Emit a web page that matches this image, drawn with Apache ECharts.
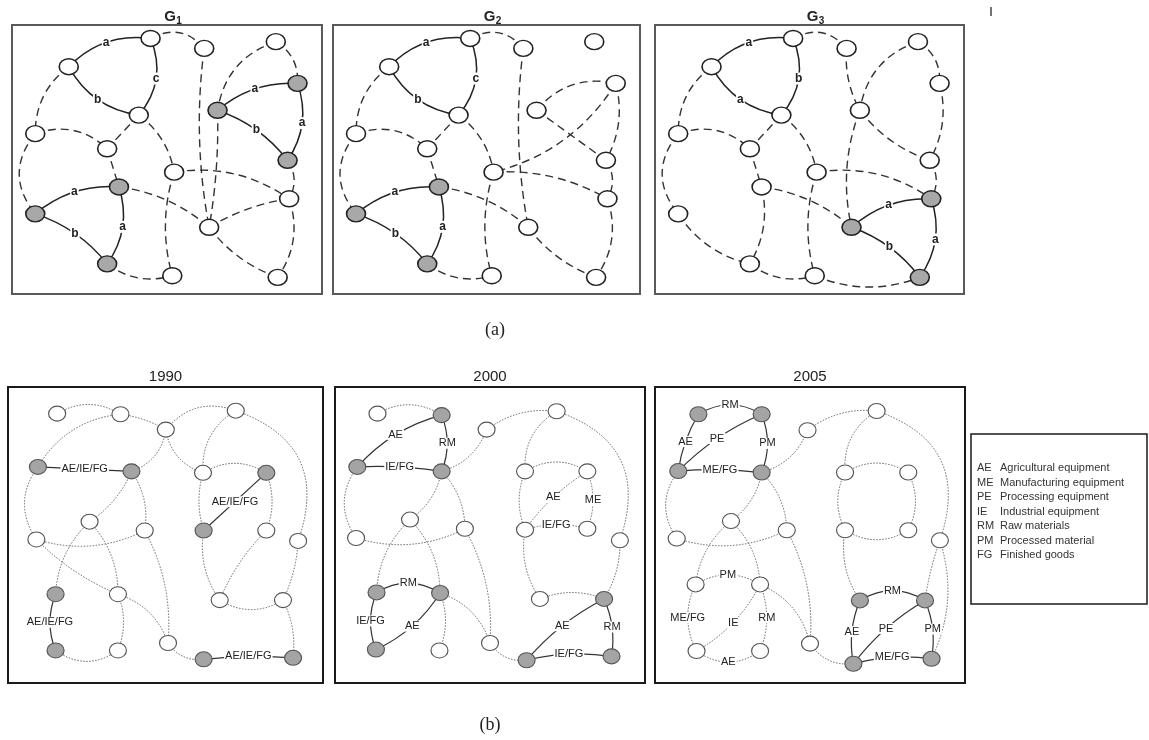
<!DOCTYPE html>
<html>
<head>
<meta charset="utf-8">
<script src="https://cdn.jsdelivr.net/npm/echarts@6/dist/echarts.min.js"></script>
<style>html,body{margin:0;padding:0;background:#fff}#chart{width:1149px;height:740px}</style>
</head>
<body>
<div id="chart"></div>
<script>
// ---------------- DATA ----------------
// Node positions as percent of each panel box [x%, y%] (y measured downward)
const topNodes = [[44.7,5.0],[62.0,8.7],[85.1,6.2],[18.3,15.5],[92.1,21.7],[66.3,31.7],[40.9,33.5],[7.5,40.4],[30.7,46.0],[88.9,50.3],[52.3,54.7],[34.5,60.2],[7.5,70.2],[89.4,64.6],[63.6,75.2],[30.7,88.8],[51.7,93.2],[85.7,93.8]];
const greyG1 = [5,6,10,12,13,16];
const greyG2 = [12,13,16];
const greyG3 = [14,15,18];
// edges: [from, to, curveness, label]  (1-based node numbers)
const g1Solid = [[4,1,0.25,'a'],[1,7,0.3,'c'],[4,7,-0.25,'b'],[6,5,0.2,'a'],[6,10,0.15,'b'],[5,10,0.25,'a'],[13,12,0.2,'a'],[13,16,0.15,'b'],[12,16,0.25,'a']];
const g1Dashed = [[1,2,0.4],[2,15,-0.08],[3,6,-0.3],[3,5,0.3],[6,15,0.05],[10,14,0.3],[14,18,0.25],[11,14,0.2],[15,14,0.1],[15,18,-0.15],[4,8,-0.25],[8,13,-0.4],[8,9,0.3],[7,9,0],[7,11,0.2],[9,12,0],[12,15,0.15],[11,17,-0.15],[16,17,-0.25]];
const g2Solid = [[4,1,0.25,'a'],[1,7,0.3,'c'],[4,7,-0.25,'b'],[13,12,0.2,'a'],[13,16,0.15,'b'],[12,16,0.25,'a']];
const g2Dashed = [[1,2,0.4],[2,15,-0.08],[6,5,0.3],[6,10,0],[5,11,0.2],[5,10,0.2],[10,14,0.3],[11,14,0.15],[14,18,0.25],[15,18,-0.15],[4,8,-0.25],[8,13,-0.4],[8,9,0.3],[7,9,0],[7,11,0.2],[9,12,0],[12,15,0.15],[11,17,-0.15],[16,17,-0.25]];
const g3Solid = [[4,1,0.25,'a'],[1,7,0.3,'b'],[4,7,-0.25,'a'],[15,14,0.2,'a'],[15,18,0.15,'b'],[14,18,0.25,'a']];
const g3Dashed = [[1,2,0.4],[2,6,-0.15],[6,15,-0.15],[3,6,-0.3],[3,5,0.3],[5,10,0.2],[6,10,-0.15],[4,8,-0.25],[8,13,-0.4],[8,9,0.3],[7,9,0],[7,11,0.2],[9,12,0],[12,15,0.15],[12,16,0.2],[13,16,-0.2],[11,17,-0.15],[16,17,-0.25],[17,18,-0.2],[11,14,0.2],[10,14,0.3]];

const nodes1990 = [[15.6,9.0],[35.7,9.2],[50.1,14.4],[72.3,8.0],[9.5,27.0],[39.2,28.5],[61.9,29.0],[82.0,29.0],[25.9,45.5],[62.1,48.5],[43.4,48.5],[9.0,51.5],[82.0,48.5],[92.1,52.0],[15.1,70.0],[34.9,70.0],[67.2,72.0],[87.3,72.0],[15.1,89.0],[34.9,89.0],[50.8,86.5],[62.1,92.0],[90.5,91.5]];
const nodes2000 = [[13.7,9.0],[34.4,9.5],[48.9,14.4],[71.5,8.2],[7.2,27.0],[34.4,28.5],[61.3,28.5],[81.4,28.5],[24.2,44.8],[61.3,48.2],[41.9,47.9],[6.8,51.0],[81.4,47.9],[91.9,51.8],[13.4,69.4],[33.9,69.6],[66.1,71.6],[86.8,71.6],[13.2,88.7],[33.7,89.0],[50.0,86.5],[61.8,92.3],[89.2,91.0]];
const nodes2005 = [[14.0,9.2],[34.4,9.2],[49.2,14.6],[71.5,8.1],[7.5,28.4],[34.4,28.9],[61.3,28.9],[81.7,28.9],[24.5,45.3],[61.3,48.4],[42.5,48.4],[7.0,51.2],[81.7,48.4],[91.9,51.8],[13.1,66.7],[33.9,66.7],[66.1,72.1],[87.1,72.1],[13.4,89.2],[33.9,89.2],[50.0,86.7],[64.0,93.5],[89.2,91.8]];
const grey1990 = [5,6,8,10,15,19,22,23];
const grey2000 = [2,5,6,15,16,18,19,22,23];
const grey2005 = [1,2,5,6,17,18,22,23];
const solid1990 = [[5,6,0,'AE/IE/FG'],[8,10,0,'AE/IE/FG'],[15,19,-0.2,'AE/IE/FG'],[22,23,0.05,'AE/IE/FG']];
const dottedLabel1990 = [];
const dotted1990 = [[1,2,0.3],[2,3,0.1],[3,4,0.35],[2,5,-0.25],[5,12,-0.35],[12,11,-0.2],[6,11,0.2],[3,6,0.3],[3,7,-0.3],[4,7,-0.3],[4,14,0.5],[7,8,0.3],[8,13,0.2],[7,10,-0.15],[10,17,-0.2],[13,17,-0.1],[14,18,0.1],[17,18,-0.3],[18,23,0.15],[21,22,-0.3],[11,21,0.15],[16,21,0.25],[6,9,0.15],[9,15,-0.2],[9,16,0.2],[16,20,0.2],[19,20,-0.35],[12,16,-0.1]];
const solid2000 = [[5,2,0.15,'AE'],[2,6,0.2,'RM'],[5,6,0.05,'IE/FG'],[15,16,0.3,'RM'],[15,19,-0.2,'IE/FG'],[16,19,0.15,'AE'],[18,22,-0.1,'AE'],[18,23,0.15,'RM'],[22,23,0.1,'IE/FG']];
const dottedLabel2000 = [[10,8,0.1,'AE'],[8,13,0.2,'ME'],[10,13,0.15,'IE/FG']];
const dotted2000 = [[1,2,0.3],[6,3,-0.25],[3,4,0.2],[4,7,-0.3],[4,14,0.5],[7,8,0.3],[7,10,-0.2],[10,17,-0.2],[17,18,0.2],[14,18,0.15],[5,12,-0.35],[12,11,-0.2],[6,11,0.2],[6,9,0.2],[9,15,-0.2],[9,16,0.2],[16,20,0.2],[11,21,0.15],[16,21,0.25],[21,22,-0.3]];
const solid2005 = [[1,2,0.3,'RM'],[1,5,-0.1,'AE'],[5,2,0.1,'PE'],[2,6,0.2,'PM'],[5,6,0.05,'ME/FG'],[17,18,0.3,'RM'],[17,22,-0.15,'AE'],[22,18,0.1,'PE'],[18,23,0.15,'PM'],[22,23,0.1,'ME/FG']];
const dottedLabel2005 = [[15,16,0.3,'PM'],[15,19,-0.25,'ME/FG'],[19,16,-0.15,'IE'],[16,20,0.2,'RM'],[19,20,-0.35,'AE']];
const dotted2005 = [[3,4,0.2],[6,3,-0.25],[4,7,-0.3],[4,14,0.5],[7,8,0.3],[7,10,-0.25],[8,13,0.25],[10,13,-0.3],[10,17,-0.2],[14,18,-0.05],[14,23,0.2],[5,12,-0.35],[12,11,-0.2],[6,11,0.2],[6,9,0.2],[9,15,-0.2],[9,16,0.2],[11,21,0.15],[16,21,0.25],[21,22,-0.3]];

const topSubs = ['1','2','3'];
const yearTitles = ['1990','2000','2005'];
const legendAbbr = ['AE','ME','PE','IE','RM','PM','FG'];
const legendDesc = ['Agricultural equipment','Manufacturing equipment','Processing equipment','Industrial equipment','Raw materials','Processed material','Finished goods'];

// ---------------- BUILD ----------------
const SANS = '"Liberation Sans", Arial, sans-serif';
const topGrids = [{left:12,top:25,width:310,height:269},{left:333,top:25,width:307,height:269},{left:655,top:25,width:309,height:269}];
const botGrids = [{left:8,top:387,width:315,height:296},{left:335,top:387,width:310,height:296},{left:655,top:387,width:310,height:296}];

const topStyle = {size:[19,16], white:'#ffffff', grey:'#a8a8a8', border:'#222', borderW:1.5,
  solid:{color:'#222', width:1.5, type:'solid'}, other:{color:'#333', width:1.4, type:[8,5]},
  font:'bold 12px ' + SANS};
const botStyle = {size:[17,15], white:'#ffffff', grey:'#a4a4a4', border:'#555', borderW:1.1,
  solid:{color:'#333', width:1.2, type:'solid'}, other:{color:'#666', width:1, type:[1.5,1.5]},
  font:'11px ' + SANS};

function graphSeries(i, nodes, grey, solid, other, st) {
  const data = nodes.map((p, k) => ({
    value: [p[0], p[1]],
    itemStyle: {color: grey.indexOf(k + 1) >= 0 ? st.grey : st.white, borderColor: st.border, borderWidth: st.borderW, opacity: 1}
  }));
  const links = [];
  other.forEach(e => links.push({source: e[0] - 1, target: e[1] - 1,
    lineStyle: {curveness: e[2], type: st.other.type, color: st.other.color, width: st.other.width, opacity: 1}}));
  solid.forEach(e => links.push({source: e[0] - 1, target: e[1] - 1,
    lineStyle: {curveness: e[2], type: st.solid.type, color: st.solid.color, width: st.solid.width, opacity: 1}}));
  return {
    type: 'graph', coordinateSystem: 'cartesian2d', xAxisIndex: i, yAxisIndex: i, layout: 'none',
    symbol: 'circle', symbolSize: st.size, data: data, links: links, silent: true, z: 2,
    label: {show: false}, edgeLabel: {show: false}, emphasis: {disabled: true}, animation: false
  };
}

function labelSeries(i, nodes, edges, st) {
  const data = edges.map(e => [nodes[e[0]-1][0], nodes[e[0]-1][1], nodes[e[1]-1][0], nodes[e[1]-1][1], e[2]]);
  const texts = edges.map(e => e[3]);
  return {
    type: 'custom', coordinateSystem: 'cartesian2d', xAxisIndex: i, yAxisIndex: i,
    silent: true, clip: false, z: 5, animation: false, encode: {x: [0, 2], y: [1, 3]}, data: data,
    renderItem: function (params, api) {
      const p1 = api.coord([api.value(0), api.value(1)]);
      const p2 = api.coord([api.value(2), api.value(3)]);
      const c = api.value(4);
      const cp = [(p1[0] + p2[0]) / 2 - (p1[1] - p2[1]) * c, (p1[1] + p2[1]) / 2 - (p2[0] - p1[0]) * c];
      const x = 0.25 * p1[0] + 0.5 * cp[0] + 0.25 * p2[0];
      const y = 0.25 * p1[1] + 0.5 * cp[1] + 0.25 * p2[1];
      return {type: 'text', x: x, y: y, style: {text: texts[params.dataIndex], font: st.font, fill: '#222',
        align: 'center', verticalAlign: 'middle', backgroundColor: '#fff', padding: [0, 1]}};
    }
  };
}

const grids = [];
topGrids.forEach(g => grids.push(Object.assign({show: true, borderColor: '#5a5a5a', borderWidth: 2, backgroundColor: 'transparent', containLabel: false}, g)));
botGrids.forEach(g => grids.push(Object.assign({show: true, borderColor: '#1a1a1a', borderWidth: 2, backgroundColor: 'transparent', containLabel: false}, g)));
const xAxes = grids.map((g, i) => ({type: 'value', gridIndex: i, min: 0, max: 100, show: false}));
const yAxes = grids.map((g, i) => ({type: 'value', gridIndex: i, min: 0, max: 100, inverse: true, show: false}));

const series = [
  graphSeries(0, topNodes, greyG1, g1Solid, g1Dashed, topStyle),
  graphSeries(1, topNodes, greyG2, g2Solid, g2Dashed, topStyle),
  graphSeries(2, topNodes, greyG3, g3Solid, g3Dashed, topStyle),
  graphSeries(3, nodes1990, grey1990, solid1990, dotted1990.concat(dottedLabel1990), botStyle),
  graphSeries(4, nodes2000, grey2000, solid2000, dotted2000.concat(dottedLabel2000), botStyle),
  graphSeries(5, nodes2005, grey2005, solid2005, dotted2005.concat(dottedLabel2005), botStyle),
  labelSeries(0, topNodes, g1Solid, topStyle),
  labelSeries(1, topNodes, g2Solid, topStyle),
  labelSeries(2, topNodes, g3Solid, topStyle),
  labelSeries(3, nodes1990, solid1990.concat(dottedLabel1990), botStyle),
  labelSeries(4, nodes2000, solid2000.concat(dottedLabel2000), botStyle),
  labelSeries(5, nodes2005, solid2005.concat(dottedLabel2005), botStyle)
];

const graphic = [];
topGrids.forEach((g, i) => {
  const cx = g.left + g.width / 2 + 3;
  graphic.push({type: 'text', x: cx, y: 17, style: {text: 'G', font: 'bold 15px ' + SANS, fill: '#222', align: 'center', verticalAlign: 'middle'}});
  graphic.push({type: 'text', x: cx + 9, y: 21, style: {text: topSubs[i], font: 'bold 10px ' + SANS, fill: '#222', align: 'center', verticalAlign: 'middle'}});
});
botGrids.forEach((g, i) => {
  graphic.push({type: 'text', x: g.left + g.width / 2, y: 377, style: {text: yearTitles[i], font: '15px ' + SANS, fill: '#222', align: 'center', verticalAlign: 'middle'}});
});
graphic.push({type: 'text', x: 495, y: 330, style: {text: '(a)', font: '18px "Liberation Serif", "Times New Roman", serif', fill: '#222', align: 'center', verticalAlign: 'middle'}});
graphic.push({type: 'text', x: 490, y: 725, style: {text: '(b)', font: '18px "Liberation Serif", "Times New Roman", serif', fill: '#222', align: 'center', verticalAlign: 'middle'}});
graphic.push({type: 'line', shape: {x1: 991, y1: 7, x2: 991, y2: 16}, style: {stroke: '#444', lineWidth: 1.5}});
graphic.push({type: 'rect', shape: {x: 971, y: 434, width: 176, height: 170}, style: {fill: '#fff', stroke: '#1a1a1a', lineWidth: 1.5}});
legendAbbr.forEach((a, i) => {
  const y = 468 + i * 14.5;
  graphic.push({type: 'text', x: 977, y: y, style: {text: a, font: '11px ' + SANS, fill: '#333', verticalAlign: 'middle'}});
  graphic.push({type: 'text', x: 1000, y: y, style: {text: legendDesc[i], font: '11px ' + SANS, fill: '#333', verticalAlign: 'middle'}});
});

const chart = echarts.init(document.getElementById('chart'), null, {renderer: 'canvas'});
chart.setOption({
  animation: false,
  backgroundColor: '#fff',
  grid: grids,
  xAxis: xAxes,
  yAxis: yAxes,
  series: series,
  graphic: graphic
});
</script>
</body>
</html>
